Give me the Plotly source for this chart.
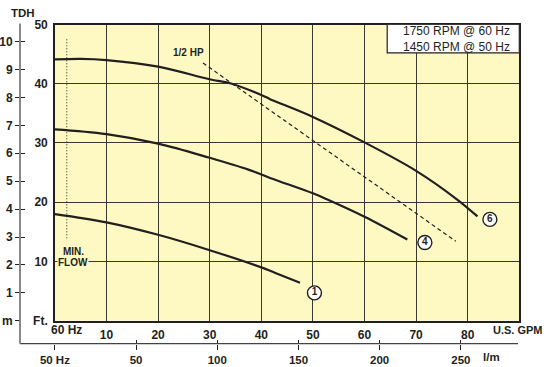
import plotly.graph_objects as go

# ---------------- data ----------------
gpm_ticks = [10, 20, 30, 40, 50, 60, 70, 80]
ft_ticks = [0, 10, 20, 30, 40, 50]
ft_text = ["Ft.", "10", "20", "30", "40", "50"]
m_ticks = [0, 1, 2, 3, 4, 5, 6, 7, 8, 9, 10]
m_text = ["m", "1", "2", "3", "4", "5", "6", "7", "8", "9", "10"]
lpm_ticks = [0, 50, 100, 150, 200, 250]
lpm_text = ["50 Hz", "50", "100", "150", "200", "250"]

curve6_gpm = [0, 5, 10, 20, 30, 34.3, 40, 41.7, 50, 60, 70, 77.9, 81.9]
curve6_ft = [44.1, 44.2, 44.0, 42.9, 40.75, 40.0, 38.1, 37.4, 34.4, 30.1, 25.3, 20.5, 17.6]

curve4_gpm = [0, 10, 20, 30, 37.5, 41.7, 50, 52.7, 60, 68.3]
curve4_ft = [32.3, 31.5, 29.9, 27.5, 25.5, 24.1, 21.5, 20.5, 17.55, 13.7]

curve1_gpm = [0, 10, 20, 30, 40, 42.6, 47.5]
curve1_ft = [18.0, 16.6, 14.5, 11.9, 9.0, 8.1, 6.4]

hp_gpm = [28.7, 77.7]
hp_ft = [43.5, 13.4]

minflow_gpm = [2.3, 2.3]
minflow_ft = [47.5, 13.9]

label_names = ["6", "4", "1"]
label_gpm = [84.3, 71.7, 50.3]
label_ft = [17.1, 13.2, 4.7]

# ---------------- styling ----------------
W, H = 550, 367
FONT = "Liberation Sans, Arial, Helvetica, sans-serif"
INK = "#231f20"
YELLOW = "#fef9c3"
GRID = "#3a3830"
AXGRAY = "#7d7d7d"

def px(x):
    return x / W

def py(y):
    return 1 - y / H

xdom = [px(54.9), px(519.3)]
ydom = [py(320.7), py(24.5)]

fig = go.Figure()

line_style = dict(color=INK, width=2.2, shape="spline", smoothing=1.0)
for xs, ys in [(curve6_gpm, curve6_ft), (curve4_gpm, curve4_ft), (curve1_gpm, curve1_ft)]:
    fig.add_trace(go.Scatter(x=xs, y=ys, mode="lines", line=line_style,
                             hoverinfo="skip", showlegend=False))

fig.add_trace(go.Scatter(x=hp_gpm, y=hp_ft, mode="lines",
                         line=dict(color=INK, width=1.2, dash="4px,3px"),
                         hoverinfo="skip", showlegend=False))
fig.add_trace(go.Scatter(x=minflow_gpm, y=minflow_ft, mode="lines",
                         line=dict(color=INK, width=1, dash="1px,2px"),
                         hoverinfo="skip", showlegend=False))

fig.add_trace(go.Scatter(x=label_gpm, y=label_ft, mode="markers+text",
                         text=label_names, textposition="middle center",
                         textfont=dict(family=FONT, size=10, color=INK, weight="bold"),
                         marker=dict(size=14, color="white", line=dict(color=INK, width=1.4)),
                         hoverinfo="skip", showlegend=False))

tickfont = dict(family=FONT, size=12, color=INK, weight="bold")

fig.update_layout(
    width=W, height=H,
    autosize=False,
    margin=dict(l=0, r=0, t=0, b=0, pad=0, autoexpand=False),
    paper_bgcolor="white",
    plot_bgcolor=YELLOW,
    showlegend=False,
    xaxis=dict(domain=xdom, range=[0, 90], tickvals=gpm_ticks, ticks="",
               showgrid=True, gridcolor=GRID, gridwidth=1.1, automargin=False,
               showline=True, mirror=True, linecolor=INK, linewidth=1.5,
               zeroline=False, tickfont=tickfont, ticklabelstandoff=2),
    yaxis=dict(domain=ydom, range=[0, 50], tickvals=ft_ticks, ticktext=ft_text, ticks="",
               showgrid=True, gridcolor=GRID, gridwidth=1.1, automargin=False,
               showline=True, mirror=True, linecolor=INK, linewidth=1.5,
               zeroline=False, tickfont=tickfont, ticklabelstandoff=3),
    yaxis2=dict(overlaying="y", anchor="free", position=px(20), side="left",
                range=[0, 10.616], tickvals=m_ticks, ticktext=m_text, automargin=False,
                ticks="outside", ticklen=5, tickcolor=INK, tickwidth=1,
                showgrid=False, zeroline=False, showline=False,
                tickfont=tickfont),
    yaxis3=dict(overlaying="y", anchor="free", position=px(20), side="left",
                range=[0, 10.616], tickvals=m_ticks, showticklabels=False, automargin=False,
                ticks="inside", ticklen=4, tickcolor=INK, tickwidth=1,
                showgrid=False, zeroline=False, showline=False),
    xaxis2=dict(overlaying="x", anchor="free", position=py(343.7), side="bottom",
                range=[0, 286.0], tickvals=lpm_ticks, ticktext=lpm_text, automargin=False,
                ticks="outside", ticklen=5, tickcolor=INK, tickwidth=1,
                showgrid=False, zeroline=False, showline=False,
                tickfont=dict(family=FONT, size=11.5, color=INK, weight="bold")),
    xaxis3=dict(overlaying="x", anchor="free", position=py(343.7), side="bottom",
                range=[0, 286.0], tickvals=lpm_ticks, showticklabels=False, automargin=False,
                ticks="inside", ticklen=4, tickcolor=INK, tickwidth=1,
                showgrid=False, zeroline=False, showline=False),
)

# dummy traces to activate secondary axes
fig.add_trace(go.Scatter(x=[None], y=[None], yaxis="y2", showlegend=False, hoverinfo="skip"))
fig.add_trace(go.Scatter(x=[None], y=[None], yaxis="y3", showlegend=False, hoverinfo="skip"))
fig.add_trace(go.Scatter(x=[None], y=[None], xaxis="x2", showlegend=False, hoverinfo="skip"))
fig.add_trace(go.Scatter(x=[None], y=[None], xaxis="x3", showlegend=False, hoverinfo="skip"))

# secondary axis lines (extend beyond the plot area)
fig.add_shape(type="line", xref="paper", yref="paper",
              x0=px(20), x1=px(518), y0=py(343.7), y1=py(343.7),
              line=dict(color="#444444", width=1.2))
# vertical metre-axis line drawn as an arrow-less annotation connector
fig.add_annotation(x=px(20), y=py(343.7), xref="paper", yref="paper",
                   text="", showarrow=True, arrowhead=0, arrowwidth=1.8,
                   arrowcolor=AXGRAY, ax=0, ay=-(343.7 - 22), standoff=0, startstandoff=0)

# RPM box
fig.add_shape(type="rect", xref="x", yref="y", x0=64.4, x1=90, y0=45.2, y1=50,
              fillcolor="white", line=dict(color=INK, width=1.2), layer="above")
fig.add_annotation(x=77.9, y=47.6, xref="x", yref="y", showarrow=False,
                   xanchor="center", yanchor="middle",
                   text="1750 RPM @ 60 Hz<br>1450 RPM @ 50 Hz",
                   font=dict(family=FONT, size=12, color=INK), align="center")

small_bold = dict(family=FONT, size=10, color=INK, weight="bold")
fig.add_annotation(x=25.85, y=45.2, xref="x", yref="y", showarrow=False,
                   xanchor="center", yanchor="middle", text="1/2 HP", font=small_bold)
fig.add_annotation(x=3.57, y=11.65, xref="x", yref="y", showarrow=False,
                   xanchor="center", yanchor="middle", text="MIN.", font=small_bold)
fig.add_annotation(x=3.5, y=9.86, xref="x", yref="y", showarrow=False,
                   xanchor="center", yanchor="middle",
                   text="FLOW", font=small_bold, bgcolor=YELLOW, borderpad=0)

# axis titles
def title(x, y, text, size):
    fig.add_annotation(x=px(x), y=py(y), xref="paper", yref="paper", showarrow=False,
                       xanchor="center", yanchor="middle", text=text,
                       font=dict(family=FONT, size=size, color=INK, weight="bold"))

title(22.7, 12.7, "TDH", 11.5)
title(66.4, 330, "60 Hz", 12)
title(518, 330, "U.S. GPM", 11)
title(491.7, 356.7, "l/m", 11.5)

fig.write_html("out.html",
               config={"displayModeBar": False},
               post_script="document.body.style.margin='0';document.body.style.overflow='hidden';")
